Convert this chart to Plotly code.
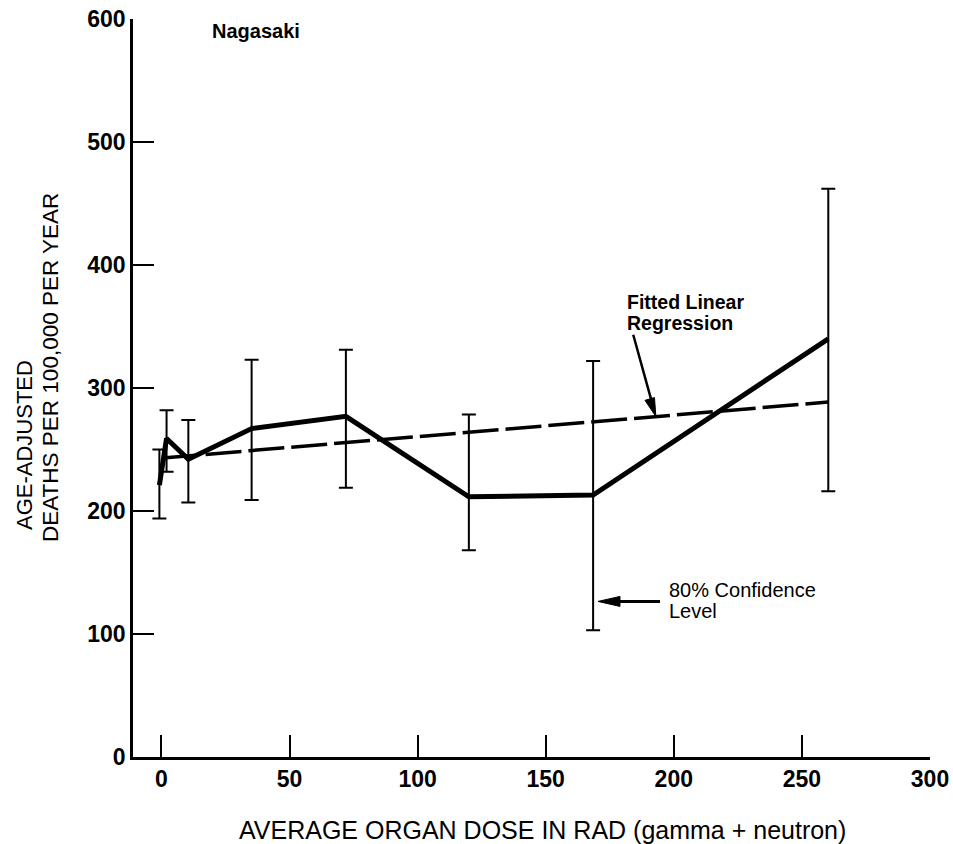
import plotly.graph_objects as go

# Average organ dose (rad) and age-adjusted death rates, Nagasaki
dose = [-0.8, 2.0, 10.5, 35.2, 72.0, 120.0, 168.5, 260.3]
rate = [221, 259, 242, 267, 277, 211.5, 213, 340]
upper_80 = [250, 282, 274, 323, 331, 278.5, 322, 462]
lower_80 = [194, 232, 207, 209, 219, 168, 103, 216]

# Fitted linear regression
reg_intercept = 243.0
reg_slope = 0.175
reg_dose = [0.5, 260.3]
reg_rate = [reg_intercept + reg_slope * d for d in reg_dose]

x_ticks = [0, 50, 100, 150, 200, 250, 300]
y_ticks = [0, 100, 200, 300, 400, 500, 600]

FONT = "Liberation Sans, Arial, Helvetica, sans-serif"

err_plus = [u - r for u, r in zip(upper_80, rate)]
err_minus = [r - l for r, l in zip(rate, lower_80)]

fig = go.Figure()

fig.add_trace(go.Scatter(
    x=reg_dose, y=reg_rate, mode="lines",
    line=dict(color="black", width=3.5, dash="36px,7px"),
    hoverinfo="skip", showlegend=False,
))

fig.add_trace(go.Scatter(
    x=dose, y=rate, mode="lines",
    line=dict(color="black", width=5),
    error_y=dict(type="data", symmetric=False, array=err_plus,
                 arrayminus=err_minus, color="black", thickness=2, width=7),
    showlegend=False,
))


def label(x, y, text, size, bold=False):
    t = f"<b>{text}</b>" if bold else text
    return dict(x=x, y=y, xref="x", yref="y", text=t, showarrow=False,
                xanchor="left", yanchor="middle",
                font=dict(family=FONT, size=size, color="black"))


# arrow tips and tails (data units)
reg_tip = (193.0, reg_intercept + reg_slope * 193.0)
reg_tail = (184.0, 344.5)
ci_tip = (170.4, 126.5)
ci_tail = (195.2, 126.5)

annotations = [
    label(18.9, 590.4, "Nagasaki", 20, bold=True),
    label(180.9, 370.0, "Fitted Linear", 19.5, bold=True),
    label(180.9, 353.0, "Regression", 19.5, bold=True),
    label(197.3, 135.5, "80% Confidence", 20),
    label(197.3, 118.5, "Level", 20),
    # arrow shafts
    dict(x=reg_tip[0], y=reg_tip[1], xref="x", yref="y",
         ax=reg_tail[0], ay=reg_tail[1], axref="x", ayref="y", text="",
         showarrow=True, arrowhead=0, arrowwidth=2.5,
         arrowcolor="black", standoff=14),
    dict(x=ci_tip[0], y=ci_tip[1], xref="x", yref="y",
         ax=ci_tail[0], ay=ci_tail[1], axref="x", ayref="y", text="",
         showarrow=True, arrowhead=0, arrowwidth=3,
         arrowcolor="black", standoff=16),
    # axis titles
    dict(x=(542 - 133) / 797, y=-0.099, xref="paper", yref="paper",
         text="AVERAGE ORGAN DOSE IN RAD (gamma + neutron)",
         showarrow=False, xanchor="center", yanchor="middle",
         font=dict(family=FONT, size=25, color="black")),
    dict(x=(25 - 133) / 797, y=(757 - 445) / 738, xref="paper", yref="paper",
         text="AGE-ADJUSTED", textangle=-90, showarrow=False,
         xanchor="center", yanchor="middle",
         font=dict(family=FONT, size=22, color="black")),
    dict(x=(50 - 133) / 797, y=(757 - 368) / 738, xref="paper", yref="paper",
         text="DEATHS PER 100,000 PER YEAR", textangle=-90, showarrow=False,
         xanchor="center", yanchor="middle",
         font=dict(family=FONT, size=22.5, color="black")),
]

# elongated filled arrowheads, drawn in pixels around each tip
shapes = [
    dict(type="path", xref="x", yref="y", xsizemode="pixel", ysizemode="pixel",
         xanchor=ci_tip[0], yanchor=ci_tip[1],
         path="M0,0 L22,5 L22,-5 Z", fillcolor="black",
         line=dict(color="black", width=1)),
    dict(type="path", xref="x", yref="y", xsizemode="pixel", ysizemode="pixel",
         xanchor=reg_tip[0], yanchor=reg_tip[1],
         path="M0,0 L-10.9,16.2 L-1.4,19.0 Z", fillcolor="black",
         line=dict(color="black", width=1)),
]

fig.update_layout(
    width=953, height=844,
    margin=dict(l=133, r=23, t=19, b=87, autoexpand=False),
    paper_bgcolor="white", plot_bgcolor="white",
    annotations=annotations, shapes=shapes,
    font=dict(family=FONT, color="black"),
)

fig.update_xaxes(
    range=[-11.1, 300], tickvals=x_ticks, ticktext=[str(v) for v in x_ticks],
    showline=True, linecolor="black", linewidth=2.5, mirror=False,
    ticks="inside", ticklen=22, tickwidth=2, tickcolor="black",
    showgrid=False, zeroline=False, ticklabelstandoff=0, automargin=False,
    tickfont=dict(family=FONT, size=23, color="black", weight="bold"),
)
fig.update_yaxes(
    range=[0, 600], tickvals=y_ticks, ticktext=[str(v) for v in y_ticks],
    showline=True, linecolor="black", linewidth=2.5, mirror=False,
    ticks="inside", ticklen=21, tickwidth=2, tickcolor="black",
    showgrid=False, zeroline=False, automargin=False,
    tickfont=dict(family=FONT, size=23, color="black", weight="bold"),
)

fig.write_html("out.html")
